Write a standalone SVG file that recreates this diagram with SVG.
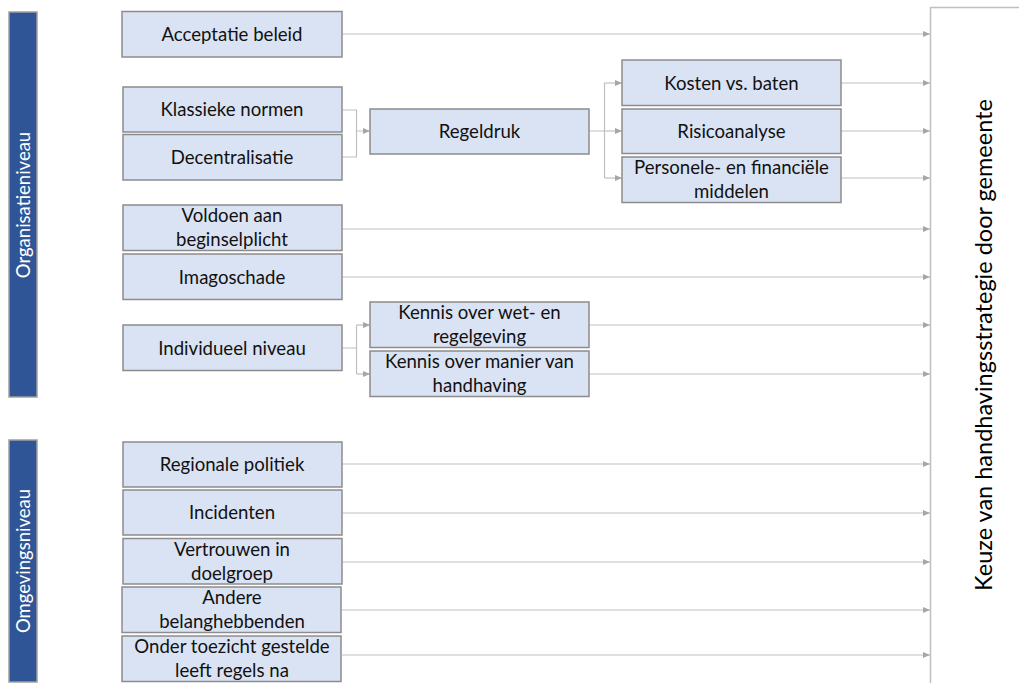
<svg xmlns="http://www.w3.org/2000/svg" width="1019" height="683" viewBox="0 0 1019 683">
<style>
.box{fill:#DAE3F3;stroke:#8C8C8C;stroke-width:1.5}
.bar{fill:#2F5597;stroke:#A0A0A0;stroke-width:1.5}
.t{font-family:Lato,"Liberation Sans",sans-serif;font-size:18.6px;fill:#111111;text-anchor:middle}
.bt{font-family:Lato,"Liberation Sans",sans-serif;font-size:18.5px;fill:#ffffff;text-anchor:middle}
.big{font-family:Lato,"Liberation Sans",sans-serif;font-size:23.5px;fill:#000;text-anchor:middle}
.c{fill:none;stroke:#BFBFBF;stroke-width:1.2}
</style>
<defs>
<marker id="ah" markerUnits="userSpaceOnUse" markerWidth="8" markerHeight="8" refX="7" refY="4" orient="auto">
<path d="M0,1 L7,4 L0,7 z" fill="#A6A6A6"/>
</marker>
</defs>
<rect width="1019" height="683" fill="#ffffff"/>

<g id="target">
<path d="M1019,7.5 L930.5,7.5 L930.5,683" fill="none" stroke="#BFBFBF" stroke-width="1.5"/>
<text class="big" transform="translate(992,345) rotate(-90)">Keuze van handhavingsstrategie door gemeente</text>
</g>

<g id="bar-org"><rect class="bar" x="9" y="12" width="28" height="385"/>
<text class="bt" transform="translate(29.5,205) rotate(-90)">Organisatieniveau</text></g>
<g id="bar-omg"><rect class="bar" x="9" y="440" width="28" height="242"/>
<text class="bt" transform="translate(29.5,561) rotate(-90)">Omgevingsniveau</text></g>

<g id="connectors">
<path class="c" d="M342,34 H930" marker-end="url(#ah)"/>
<path class="c" d="M342,110 H356.5 V157 H342 M356.5,131 H370" marker-end="url(#ah)"/>
<path class="c" d="M589,131 H604.5 M604.5,83 V178"/>
<path class="c" d="M604.5,83 H622" marker-end="url(#ah)"/>
<path class="c" d="M604.5,131 H622" marker-end="url(#ah)"/>
<path class="c" d="M604.5,178 H622" marker-end="url(#ah)"/>
<path class="c" d="M841,83 H930" marker-end="url(#ah)"/>
<path class="c" d="M841,131 H930" marker-end="url(#ah)"/>
<path class="c" d="M841,178 H930" marker-end="url(#ah)"/>
<path class="c" d="M342,229 H930" marker-end="url(#ah)"/>
<path class="c" d="M342,277 H930" marker-end="url(#ah)"/>
<path class="c" d="M342,348 H356.5 M356.5,325 V374"/>
<path class="c" d="M356.5,325 H370" marker-end="url(#ah)"/>
<path class="c" d="M356.5,374 H370" marker-end="url(#ah)"/>
<path class="c" d="M589,325 H930" marker-end="url(#ah)"/>
<path class="c" d="M589,374 H930" marker-end="url(#ah)"/>
<path class="c" d="M342,464 H930" marker-end="url(#ah)"/>
<path class="c" d="M342,513 H930" marker-end="url(#ah)"/>
<path class="c" d="M342,562 H930" marker-end="url(#ah)"/>
<path class="c" d="M342,610 H930" marker-end="url(#ah)"/>
<path class="c" d="M342,655 H930" marker-end="url(#ah)"/>
</g>

<g id="n-acceptatie"><rect class="box" x="122" y="11.5" width="220" height="45.5"/><text class="t" x="232" y="40.5">Acceptatie beleid</text></g>
<g id="n-klassieke"><rect class="box" x="123" y="87" width="219" height="45"/><text class="t" x="232" y="116">Klassieke normen</text></g>
<g id="n-decentralisatie"><rect class="box" x="123" y="134.5" width="219" height="45.5"/><text class="t" x="232" y="163.5">Decentralisatie</text></g>
<g id="n-voldoen"><rect class="box" x="123" y="205" width="219" height="45.5"/><text class="t" x="232" y="222">Voldoen aan</text><text class="t" x="232" y="246">beginselplicht</text></g>
<g id="n-imagoschade"><rect class="box" x="123" y="254" width="219" height="45.5"/><text class="t" x="232" y="283.5">Imagoschade</text></g>
<g id="n-individueel"><rect class="box" x="123" y="325" width="219" height="45.5"/><text class="t" x="232" y="354.5">Individueel niveau</text></g>
<g id="n-regeldruk"><rect class="box" x="370" y="109" width="219" height="45"/><text class="t" x="479.5" y="138">Regeldruk</text></g>
<g id="n-kosten"><rect class="box" x="622" y="60" width="219" height="45.5"/><text class="t" x="731.5" y="89.5">Kosten vs. baten</text></g>
<g id="n-risico"><rect class="box" x="622" y="109" width="219" height="44.5"/><text class="t" x="731.5" y="138">Risicoanalyse</text></g>
<g id="n-personele"><rect class="box" x="622" y="157" width="219" height="45.5"/><text class="t" x="731.5" y="174">Personele- en financiële</text><text class="t" x="731.5" y="198">middelen</text></g>
<g id="n-kenniswet"><rect class="box" x="370" y="302" width="219" height="45.5"/><text class="t" x="479.5" y="319">Kennis over wet- en</text><text class="t" x="479.5" y="343">regelgeving</text></g>
<g id="n-kennismanier"><rect class="box" x="370" y="351" width="219" height="45.5"/><text class="t" x="479.5" y="368">Kennis over manier van</text><text class="t" x="479.5" y="392">handhaving</text></g>
<g id="n-regionale"><rect class="box" x="123" y="442" width="219" height="45"/><text class="t" x="232" y="471">Regionale politiek</text></g>
<g id="n-incidenten"><rect class="box" x="123" y="490" width="219" height="45"/><text class="t" x="232" y="519">Incidenten</text></g>
<g id="n-vertrouwen"><rect class="box" x="123" y="538.5" width="219" height="45.5"/><text class="t" x="232" y="555.5">Vertrouwen in</text><text class="t" x="232" y="579.5">doelgroep</text></g>
<g id="n-andere"><rect class="box" x="122" y="587" width="219" height="45.5"/><text class="t" x="232" y="604">Andere</text><text class="t" x="232" y="628">belanghebbenden</text></g>
<g id="n-onder"><rect class="box" x="122" y="636" width="219" height="45.5"/><text class="t" x="232" y="653">Onder toezicht gestelde</text><text class="t" x="232" y="677">leeft regels na</text></g>
</svg>
